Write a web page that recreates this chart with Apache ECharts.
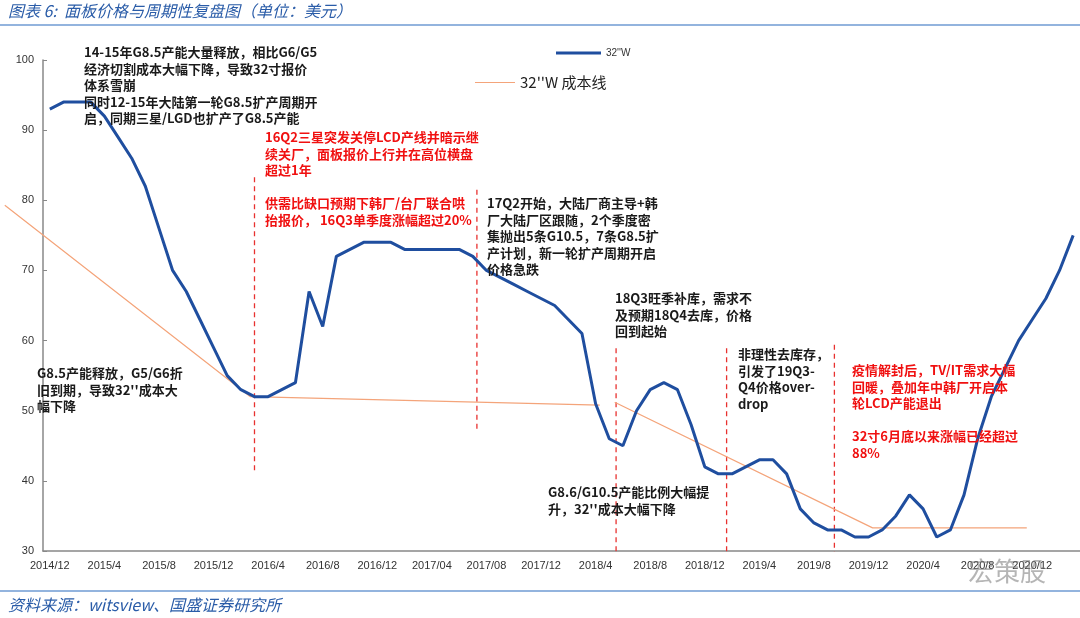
<!DOCTYPE html>
<html><head><meta charset="utf-8">
<script src="https://cdn.jsdelivr.net/npm/echarts@6/dist/echarts.min.js"></script>
<style>html,body{margin:0;padding:0;background:#fff}#c{width:1080px;height:618px}</style>
</head><body><div id="c"></div>
<script>
const categories = [
 '2014/12',
 '2015/1','2015/2','2015/3','2015/4','2015/5','2015/6','2015/7','2015/8','2015/9','2015/10','2015/11','2015/12',
 '2016/1','2016/2','2016/3','2016/4','2016/5','2016/6','2016/7','2016/8','2016/9','2016/10','2016/11','2016/12',
 '2017/1','2017/2','2017/3','2017/04','2017/5','2017/6','2017/7','2017/08','2017/9','2017/10','2017/11','2017/12',
 '2018/1','2018/2','2018/3','2018/4','2018/5','2018/6','2018/7','2018/8','2018/9','2018/10','2018/11','2018/12',
 '2019/1','2019/2','2019/3','2019/4','2019/5','2019/6','2019/7','2019/8','2019/9','2019/10','2019/11','2019/12',
 '2020/1','2020/2','2020/3','2020/4','2020/5','2020/6','2020/7','2020/8','2020/9','2020/10','2020/11','2020/12',
 '2021/1','2021/2','2021/3'
];
const price32W = [
 93,94,94,94,92,89,86,82,76,70,67,63,59,55,53,52,52,53,54,67,62,72,73,74,74,74,73,73,73,73,73,72,70,69,68,67,66,65,63,61,
 51,46,45,50,53,54,53,48,42,41,41,42,43,43,41,36,34,33,33,32,32,33,35,38,36,32,33,38,46,52,56,60,63,66,70,75
];
// cost line segments & guide lines, x in month-index units
const costLine1 = [[-3.3,79.3],[14.7,52],[40.3,50.8]];
const costLine2 = [[41.4,51.2],[60.3,33.3],[71.6,33.3]];
const guide1 = [[15.0,83.3],[15.0,41.5]];
const guide2 = [[31.3,81.5],[31.3,47.3]];
const guide3 = [[41.5,58.9],[41.5,25.6]];
const guide4 = [[49.6,58.9],[49.6,25.7]];
const guide5 = [[57.5,59.4],[57.5,28.6]];
const yMin = 30, yMax = 100, yStep = 10;

const G = {left:43, right:0, top:60, bottom:67, W:1080};
const band = (G.W - G.left - G.right) / categories.length;
const c0 = G.left + band/2;
const xMin2 = -c0 / band, xMax2 = (G.W - c0) / band;

const blk = '#1a1a1a', red = '#f01010';
const fontCJK = '"Noto Sans CJK SC","Noto Sans",sans-serif';
function txt(x, y, s, color, size) {
  return {type:'text', left:x, top:y, z:100, style:{text:s, fill:color, font:'bold ' + size + 'px ' + fontCJK, lineHeight:16.5}};
}
const chart = echarts.init(document.getElementById('c'), null, {renderer:'canvas'});
const dash = {color:'#e8312f', width:1.3, type:[5,4]};
function guideSeries(d){ return {type:'line', xAxisIndex:1, yAxisIndex:1, data:d, symbol:'none', silent:true, lineStyle:dash, z:1}; }
chart.setOption({
  animation:false,
  backgroundColor:'#fff',
  grid:[
    {left:G.left, right:G.right, top:G.top, bottom:G.bottom, outerBoundsMode:'none', containLabel:false},
    {left:0, right:0, top:G.top, bottom:G.bottom, outerBoundsMode:'none', containLabel:false}
  ],
  legend:[
    {data:['32\'\'W'], left:551, top:43, itemWidth:45, itemHeight:3, icon:'rect', textStyle:{fontSize:10, color:'#333'}, itemGap:2},
    {data:['32\'\'W 成本线'], left:470, top:70, itemWidth:40, itemHeight:1, icon:'rect', textStyle:{fontSize:15, color:'#222', fontFamily:fontCJK}, itemGap:5}
  ],
  xAxis:[
    {type:'category', gridIndex:0, data:categories, boundaryGap:true,
     axisLine:{lineStyle:{color:'#888', width:1.5}},
     axisTick:{inside:true, length:4, interval:0, alignWithLabel:true, lineStyle:{color:'#888'}},
     axisLabel:{interval:3, color:'#333', fontSize:11, margin:9, fontFamily:'"Liberation Sans",sans-serif'}},
    {type:'value', gridIndex:1, min:xMin2, max:xMax2, show:false}
  ],
  yAxis:[
    {type:'value', gridIndex:0, min:yMin, max:yMax, interval:yStep, splitLine:{show:false},
     axisLine:{show:true, lineStyle:{color:'#888', width:1.5}},
     axisTick:{show:true, inside:true, length:4, lineStyle:{color:'#888'}},
     axisLabel:{color:'#333', fontSize:11, margin:9, fontFamily:'"Liberation Sans",sans-serif'}},
    {type:'value', gridIndex:1, min:yMin, max:yMax, show:false}
  ],
  series:[
    {name:'32\'\'W', type:'line', data:price32W, symbol:'none', lineStyle:{color:'#1f4e9f', width:3}, itemStyle:{color:'#1f4e9f'}, z:5},
    {name:'32\'\'W 成本线', type:'line', xAxisIndex:1, yAxisIndex:1, data:costLine1, symbol:'none', lineStyle:{color:'#f4a47a', width:1.2}, itemStyle:{color:'#f4a47a'}, z:3},
    {name:'32\'\'W 成本线', type:'line', xAxisIndex:1, yAxisIndex:1, data:costLine2, symbol:'none', lineStyle:{color:'#f4a47a', width:1.2}, itemStyle:{color:'#f4a47a'}, z:3},
    guideSeries(guide1), guideSeries(guide2), guideSeries(guide3), guideSeries(guide4), guideSeries(guide5)
  ],
  graphic:[
    {type:'text', left:8, top:3, style:{text:'图表 6:  面板价格与周期性复盘图（单位：美元）', fill:'#2a5ca8', font:'italic 16px '+fontCJK}},
    {type:'line', shape:{x1:0,y1:25,x2:1080,y2:25}, style:{stroke:'#6f9bd3', lineWidth:1.5}},
    {type:'line', shape:{x1:0,y1:591,x2:1080,y2:591}, style:{stroke:'#6f9bd3', lineWidth:1.5}},
    {type:'text', left:8, top:597, style:{text:'资料来源：witsview、国盛证券研究所', fill:'#2a5ca8', font:'italic 16px '+fontCJK}},
    txt(84, 44, '14-15年G8.5产能大量释放，相比G6/G5\n经济切割成本大幅下降，导致32寸报价\n体系雪崩\n同时12-15年大陆第一轮G8.5扩产周期开\n启，同期三星/LGD也扩产了G8.5产能', blk, 13),
    txt(265, 129, '16Q2三星突发关停LCD产线并暗示继\n续关厂，面板报价上行并在高位横盘\n超过1年\n\n供需比缺口预期下韩厂/台厂联合哄\n抬报价， 16Q3单季度涨幅超过20%', red, 13),
    txt(487, 195, '17Q2开始，大陆厂商主导+韩\n厂大陆厂区跟随，2个季度密\n集抛出5条G10.5，7条G8.5扩\n产计划，新一轮扩产周期开启\n价格急跌', blk, 13),
    txt(615, 290, '18Q3旺季补库，需求不\n及预期18Q4去库，价格\n回到起始', blk, 13),
    txt(738, 346, '非理性去库存，\n引发了19Q3-\nQ4价格over-\ndrop', blk, 13),
    txt(852, 362, '疫情解封后，TV/IT需求大幅\n回暖，叠加年中韩厂开启本\n轮LCD产能退出\n\n32寸6月底以来涨幅已经超过\n88%', red, 13),
    txt(548, 484, 'G8.6/G10.5产能比例大幅提\n升，32\'\'成本大幅下降', blk, 13),
    txt(37, 365, 'G8.5产能释放，G5/G6折\n旧到期，导致32\'\'成本大\n幅下降', blk, 13),
    {type:'text', left:968, top:558, z:120, style:{text:'宏策股', fill:'rgba(120,120,120,0.55)', font:'26px '+fontCJK}}
  ]
});
</script></body></html>
